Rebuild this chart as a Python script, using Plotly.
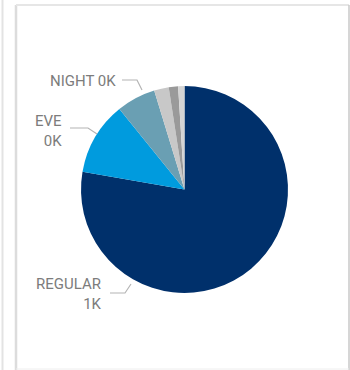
import plotly.graph_objects as go

W, H = 350, 370

categories = ["REGULAR", "EVE", "NIGHT", "WEEKEND", "HOLIDAY", "OTHER"]
values = [1019, 150, 80, 30, 19, 13]
label_texts = ["REGULAR<br>1K", "EVE<br>0K", "NIGHT 0K"]
colors = ["#00306B", "#009BDE", "#6A9FB3", "#C8C8C8", "#9A9A9A", "#D4D4D4"]

cx, cy, r = 184.5, 189.5, 103.5

def px(x):
    return x / W

def py(y):
    return 1 - y / H

fig = go.Figure(go.Pie(
    labels=categories, values=values, sort=False, direction="clockwise",
    rotation=0, marker=dict(colors=colors, line=dict(width=0)),
    textinfo="none", hoverinfo="label+value", showlegend=False,
    domain=dict(x=[px(cx - r), px(cx + r)], y=[py(cy + r), py(cy - r)]),
))

shapes = []
line_col = "#B4B4B4"
# leader lines
leaders = [
    [(110, 293), (125, 293), (131, 284)],
    [(70, 128), (88, 128), (97, 134)],
    [(122, 80), (137, 80), (142, 90)],
]
for pts in leaders:
    path = "M " + " L ".join(f"{px(x)},{py(y)}" for x, y in pts)
    shapes.append(dict(type="path", xref="paper", yref="paper", path=path,
                       line=dict(color=line_col, width=1.2)))

# frame lines
frame = [
    (2.5, 0, 2.5, H, "#E3E3E3", 2),
    (16, 5, 16, H, "#DCDCDC", 2.5),
    (16, 5, 349, 5, "#E6E6E6", 2),
    (349, 5, 349, H, "#C8C8C8", 1.5),
    (16, 369, 349, 369, "#EEEEEE", 1),
]
for x0, y0, x1, y1, c, w in frame:
    shapes.append(dict(type="line", xref="paper", yref="paper",
                       x0=px(x0), y0=py(y0), x1=px(x1), y1=py(y1),
                       line=dict(color=c, width=w)))

font = dict(family="Roboto", size=15, color="#7C7C7C")
annotations = [
    dict(text=label_texts[0], x=px(104), y=py(294), xanchor="right", yanchor="middle", align="right"),
    dict(text=label_texts[1], x=px(64), y=py(131), xanchor="right", yanchor="middle", align="right"),
    dict(text=label_texts[2], x=px(118), y=py(81), xanchor="right", yanchor="middle", align="right"),
]
for a in annotations:
    a.update(xref="paper", yref="paper", showarrow=False, font=font)

fig.update_layout(
    width=W, height=H, margin=dict(l=0, r=0, t=0, b=0),
    paper_bgcolor="white", plot_bgcolor="white",
    shapes=shapes, annotations=annotations,
)

fig.write_html("out.html", config={"displayModeBar": False},
               post_script="document.body.style.margin='0';document.body.style.overflow='hidden';")
